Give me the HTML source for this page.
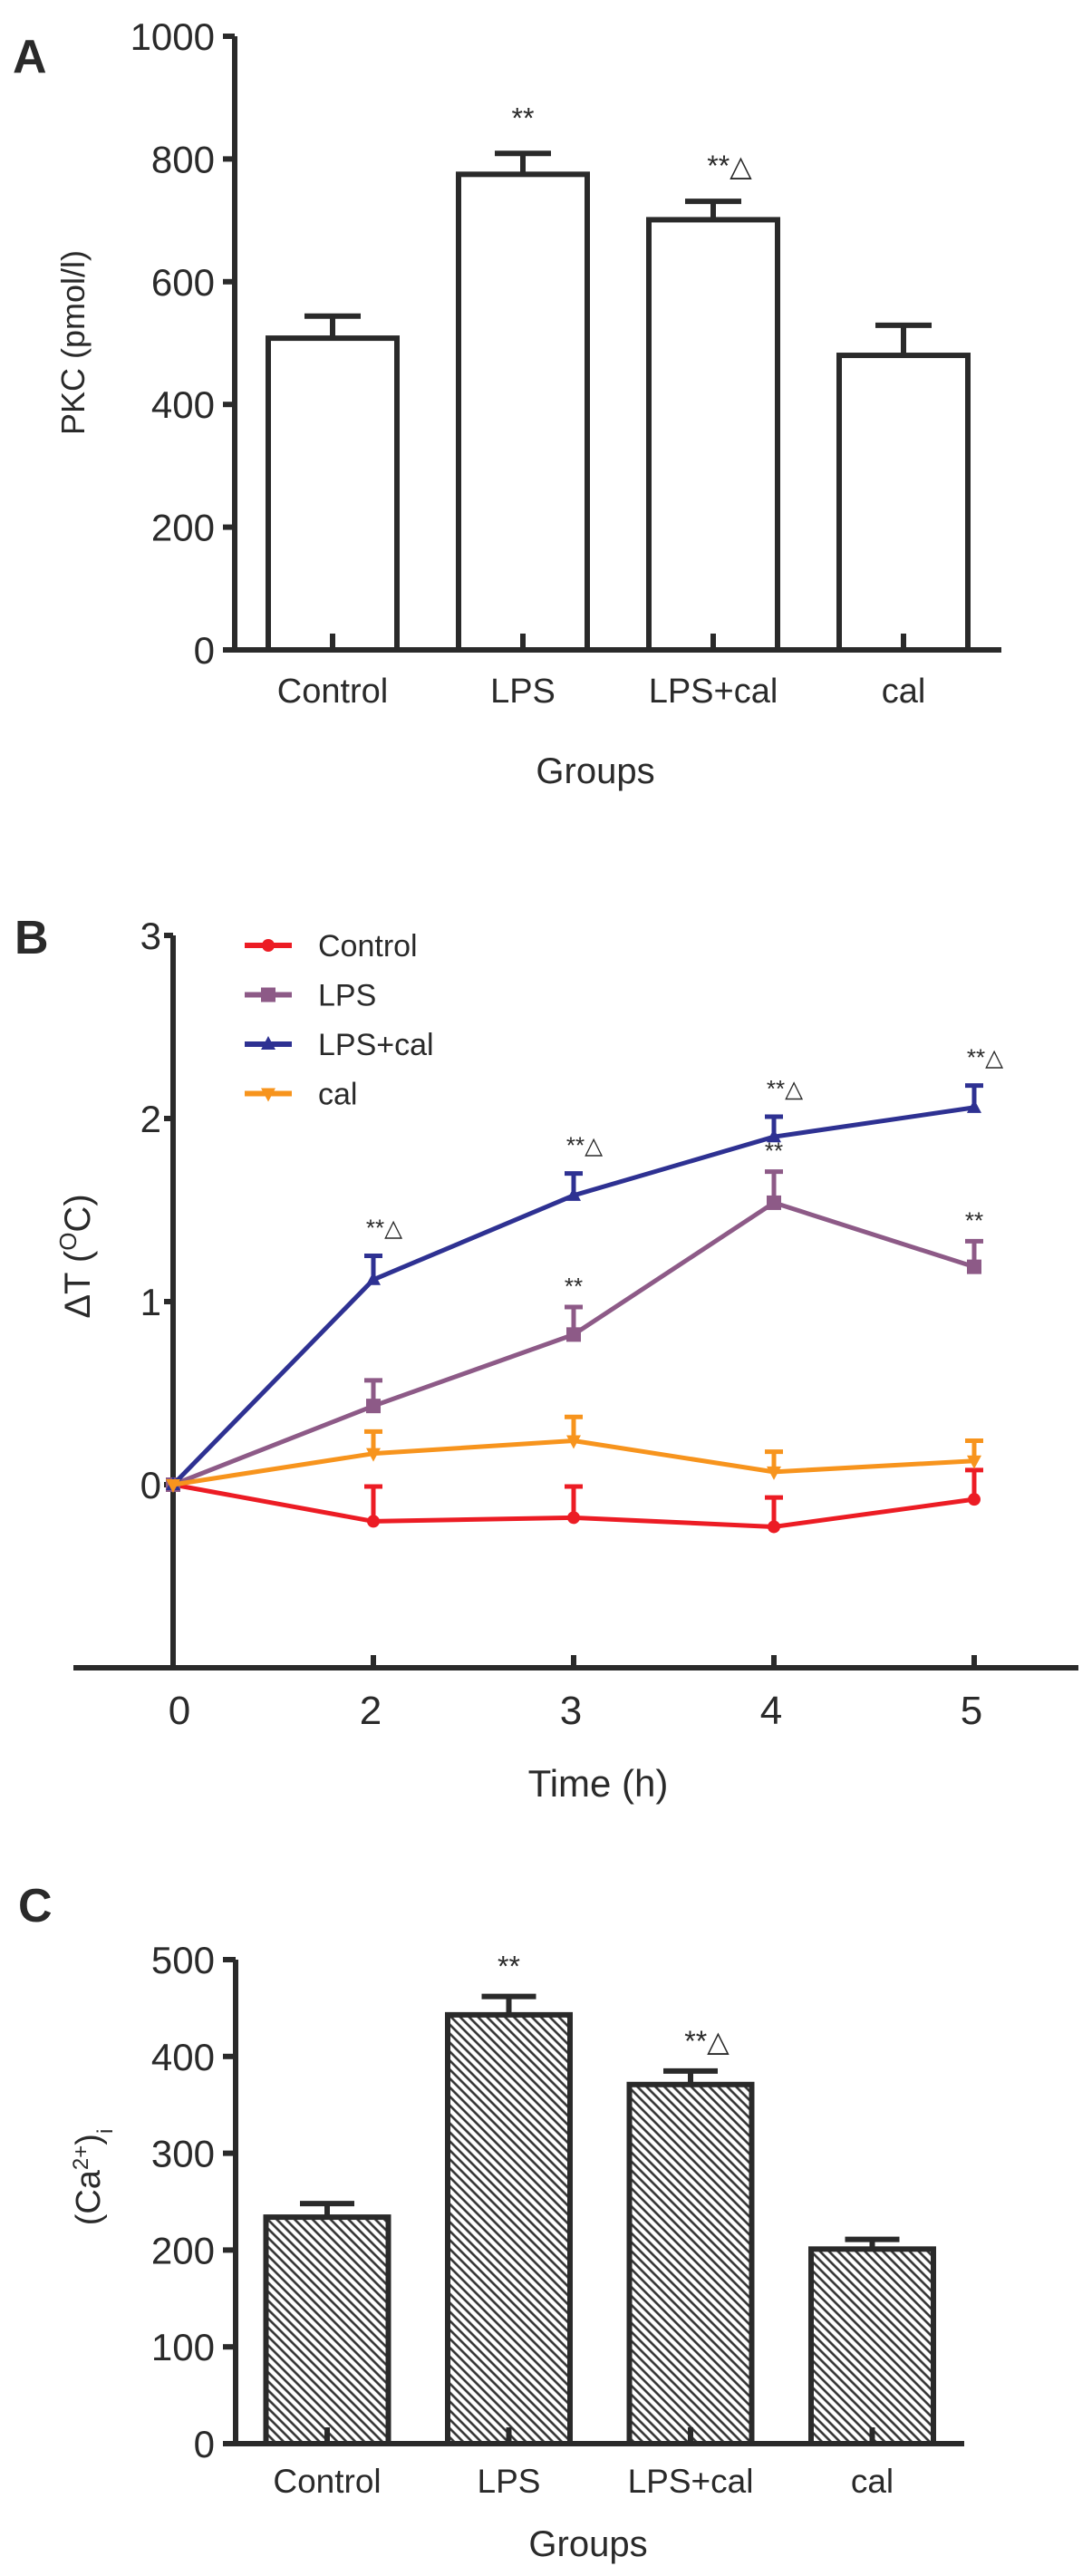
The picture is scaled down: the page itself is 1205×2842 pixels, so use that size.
<!DOCTYPE html>
<html><head><meta charset="utf-8"><style>
html,body{margin:0;padding:0;background:#fff}
svg{display:block}
text{font-family:"Liberation Sans",Arial,sans-serif;fill:#2a2a2a}
</style></head><body>
<svg id="fig" width="1205" height="2842" viewBox="0 0 1205 2842" xmlns="http://www.w3.org/2000/svg">
<defs>
<pattern id="hatch" patternUnits="userSpaceOnUse" width="7" height="7" patternTransform="rotate(45)">
<rect width="7" height="7" fill="#fff"/>
<line x1="0" y1="3.5" x2="7" y2="3.5" stroke="#333" stroke-width="2.6"/>
</pattern>
</defs>
<g id="pa"></g>
<g id="pb"></g>
<g id="pc"></g>
</svg>
<script>
// Panel A data
const aCategories = ["Control", "LPS", "LPS+cal", "cal"];
const aValues = [508, 775, 701, 480];
const aErrors = [36, 34, 30, 49];
const aMarks = ["", "**", "**△", ""];
const aTicks = [0, 200, 400, 600, 800, 1000];

// Panel B data
const bTimes = ["0", "2", "3", "4", "5"];
const bSeriesNames = ["Control", "LPS", "LPS+cal", "cal"];
const bControl = [0, -0.20, -0.18, -0.23, -0.08];
const bControlErr = [0, 0.19, 0.17, 0.16, 0.16];
const bLPS = [0, 0.43, 0.82, 1.54, 1.19];
const bLPSErr = [0, 0.14, 0.15, 0.17, 0.14];
const bLPScal = [0, 1.12, 1.58, 1.90, 2.06];
const bLPScalErr = [0, 0.13, 0.12, 0.11, 0.12];
const bCal = [0, 0.17, 0.24, 0.07, 0.13];
const bCalErr = [0, 0.12, 0.13, 0.11, 0.11];
const bLPSMarks = ["", "", "**", "**", "**"];
const bLPScalMarks = ["", "**△", "**△", "**△", "**△"];
const bTicks = [0, 1, 2, 3];

// Panel C data
const cCategories = ["Control", "LPS", "LPS+cal", "cal"];
const cValues = [234, 443, 371, 201];
const cErrors = [14, 19, 14, 10];
const cMarks = ["", "**", "**△", ""];
const cTicks = [0, 100, 200, 300, 400, 500];

const NS = "http://www.w3.org/2000/svg";
function mk(parent, tag, attrs, txt) {
  const e = document.createElementNS(NS, tag);
  for (const k in attrs) e.setAttribute(k, attrs[k]);
  if (txt !== undefined) e.textContent = txt;
  parent.appendChild(e);
  return e;
}
const INK = "#2a2a2a";

// ---------- Panel A ----------
(function(){
  const g = document.getElementById('pa');
  const y0 = 717, yTop = 40, vMax = 1000;
  const yA = v => y0 - (v / vMax) * (y0 - yTop);
  const xA = i => 367 + i * 210;
  const bw = 142;
  let t = mk(g, 'text', {x: 14, y: 80, 'font-size': 52, 'font-weight': 'bold', fill: '#111'}, 'A');
   
  aValues.forEach((v, i) => {
    const cx = xA(i);
    const r = mk(g, 'rect', {x: cx - bw/2, y: yA(v), width: bw, height: y0 - yA(v), fill: '#fff', stroke: INK, 'stroke-width': 6});
    
    
    const e = mk(g, 'path', {d: `M${cx} ${yA(v)} V${yA(v + aErrors[i])} M${cx-31} ${yA(v + aErrors[i])} H${cx+31} M${cx} ${y0} V${y0-18}`, stroke: INK, 'stroke-width': 6, fill: 'none'});
     
    const l = mk(g, 'text', {x: cx, y: 775, 'font-size': 38, 'text-anchor': 'middle'}, aCategories[i]);
     
    if (aMarks[i]) {
      const m = mk(g, 'text', {x: cx + (aMarks[i].length > 2 ? 18 : 0), y: yA(v + aErrors[i]) - 28, 'font-size': 32, 'text-anchor': 'middle'}, aMarks[i]);
       
    }
  });
  const ax = mk(g, 'path', {d: `M259 ${yTop} V${y0} M246 ${y0} H1105`, stroke: INK, 'stroke-width': 6, fill: 'none'});
   
  aTicks.forEach(v => {
    const tk = mk(g, 'path', {d: `M246 ${yA(v)} H259`, stroke: INK, 'stroke-width': 6});
     
    const tl = mk(g, 'text', {x: 237, y: yA(v) + 15, 'font-size': 42, 'text-anchor': 'end'}, v);
     
  });
  const yt = mk(g, 'text', {x: 0, y: 0, 'font-size': 36, 'text-anchor': 'middle', transform: 'translate(93,378) rotate(-90)'}, 'PKC (pmol/l)');
   
  const xt = mk(g, 'text', {x: 657, y: 864, 'font-size': 40, 'text-anchor': 'middle'}, 'Groups');
   
})();

// ---------- Panel B ----------
(function(){
  const g = document.getElementById('pb');
  const yZero = 1638, unit = 202;
  const yB = v => yZero - v * unit;
  const xB = i => 191 + i * 221;
  const yBottom = yB(-1);
  let t = mk(g, 'text', {x: 16, y: 1052, 'font-size': 52, 'font-weight': 'bold', fill: '#111'}, 'B');
   
  const ax = mk(g, 'path', {d: `M191 ${yB(3)} V${yBottom} M81 ${yBottom} H1190`, stroke: INK, 'stroke-width': 6, fill: 'none'});
   
  bTicks.forEach(v => {
    const tk = mk(g, 'path', {d: `M181 ${yB(v)} H191`, stroke: INK, 'stroke-width': 6});
     
    const tl = mk(g, 'text', {x: 178, y: yB(v) + 15, 'font-size': 42, 'text-anchor': 'end'}, v);
     
  });
  bTimes.forEach((lab, i) => {
    if (i > 0) {
      const tk = mk(g, 'path', {d: `M${xB(i)} ${yBottom} V${yBottom-14}`, stroke: INK, 'stroke-width': 6});
       
    }
    const tl = mk(g, 'text', {x: xB(i) + (i === 0 ? 7 : -3), y: 1902, 'font-size': 44, 'text-anchor': 'middle'}, lab);
     
  });
  const yt = mk(g, 'text', {x: 0, y: 0, 'font-size': 40, 'text-anchor': 'middle', transform: 'translate(99,1386) rotate(-90)'});
   
  yt.innerHTML = 'ΔT (<tspan baseline-shift="super" font-size="26">O</tspan>C)';
  const xt = mk(g, 'text', {x: 660, y: 1982, 'font-size': 42, 'text-anchor': 'middle'}, 'Time (h)');
   

  const series = [
    {vals: bControl, err: bControlErr, color: '#ec1c24', marker: 'circle'},
    {vals: bLPS, err: bLPSErr, color: '#8d5a87', marker: 'square'},
    {vals: bLPScal, err: bLPScalErr, color: '#2e3192', marker: 'tri'},
    {vals: bCal, err: bCalErr, color: '#f7941d', marker: 'tridown'}
  ];
  function marker(parent, type, x, y, c) {
    let m;
    if (type === 'circle') m = mk(parent, 'circle', {cx: x, cy: y, r: 7, fill: c});
    else if (type === 'square') m = mk(parent, 'rect', {x: x-8, y: y-8, width: 16, height: 16, fill: c});
    else if (type === 'tri') m = mk(parent, 'path', {d: `M${x} ${y-9} L${x+8} ${y+6} L${x-8} ${y+6}Z`, fill: c});
    else m = mk(parent, 'path', {d: `M${x} ${y+9} L${x+8} ${y-6} L${x-8} ${y-6}Z`, fill: c});
     
  }
  series.forEach((s, si) => {
    const sg = mk(g, 'g', {});
    
    
    const d = s.vals.map((v, i) => (i ? 'L' : 'M') + xB(i) + ' ' + yB(v)).join(' ');
    const ln = mk(sg, 'path', {d: d, stroke: s.color, 'stroke-width': 5, fill: 'none', 'stroke-linejoin': 'round'});
     
    s.vals.forEach((v, i) => {
      if (s.err[i] > 0) {
        const top = yB(v + s.err[i]);
        const e = mk(sg, 'path', {d: `M${xB(i)} ${yB(v)} V${top} M${xB(i)-10} ${top} H${xB(i)+10}`, stroke: s.color, 'stroke-width': 5, fill: 'none'});
         
      }
      marker(sg, s.marker, xB(i), yB(v), s.color);
    });
    const ly = 1043 + si * 54.5;
    const lg = mk(g, 'g', {});
     
    mk(lg, 'path', {d: `M270 ${ly} H322`, stroke: s.color, 'stroke-width': 6});
    marker(lg, s.marker, 296, ly, s.color);
    mk(lg, 'text', {x: 351, y: ly + 12, 'font-size': 34}, bSeriesNames[si]);
  });
  bLPScal.forEach((v, i) => {
    if (!bLPScalMarks[i]) return;
    const m = mk(g, 'text', {x: xB(i) + 12, y: yB(v + bLPScalErr[i]) - 22, 'font-size': 26, 'text-anchor': 'middle'}, bLPScalMarks[i]);
     
  });
  bLPS.forEach((v, i) => {
    if (!bLPSMarks[i]) return;
    const m = mk(g, 'text', {x: xB(i), y: yB(v + bLPSErr[i]) - 14, 'font-size': 26, 'text-anchor': 'middle'}, bLPSMarks[i]);
     
  });
})();

// ---------- Panel C ----------
(function(){
  const g = document.getElementById('pc');
  const y0 = 2696, yTop = 2162, vMax = 500;
  const yC = v => y0 - (v / vMax) * (y0 - yTop);
  const xC = i => 361 + i * 200.5;
  const bw = 135;
  let t = mk(g, 'text', {x: 20, y: 2120, 'font-size': 52, 'font-weight': 'bold', fill: '#111'}, 'C');
   
  cValues.forEach((v, i) => {
    const cx = xC(i);
    const r = mk(g, 'rect', {x: cx - bw/2, y: yC(v), width: bw, height: y0 - yC(v), fill: 'url(#hatch)', stroke: INK, 'stroke-width': 6});
    
    
    const e = mk(g, 'path', {d: `M${cx} ${yC(v)} V${yC(v + cErrors[i])} M${cx-30} ${yC(v + cErrors[i])} H${cx+30} M${cx} ${y0} V${y0-18}`, stroke: INK, 'stroke-width': 6, fill: 'none'});
     
    const l = mk(g, 'text', {x: cx, y: 2750, 'font-size': 37, 'text-anchor': 'middle'}, cCategories[i]);
     
    if (cMarks[i]) {
      const m = mk(g, 'text', {x: cx + (cMarks[i].length > 2 ? 18 : 0), y: yC(v + cErrors[i]) - 22, 'font-size': 32, 'text-anchor': 'middle'}, cMarks[i]);
       
    }
  });
  const ax = mk(g, 'path', {d: `M260 ${yTop} V${y0} M246 ${y0} H1064`, stroke: INK, 'stroke-width': 6, fill: 'none'});
   
  cTicks.forEach(v => {
    const tk = mk(g, 'path', {d: `M246 ${yC(v)} H260`, stroke: INK, 'stroke-width': 6});
     
    const tl = mk(g, 'text', {x: 237, y: yC(v) + 15, 'font-size': 42, 'text-anchor': 'end'}, v);
     
  });
  const yt = mk(g, 'text', {x: 0, y: 0, 'font-size': 38, 'text-anchor': 'middle', transform: 'translate(110,2402) rotate(-90)'});
   
  yt.innerHTML = '(Ca<tspan baseline-shift="super" font-size="24">2+</tspan>)<tspan baseline-shift="sub" font-size="24">i</tspan>';
  const xt = mk(g, 'text', {x: 649, y: 2820, 'font-size': 40, 'text-anchor': 'middle'}, 'Groups');
   
})();
</script>
</body></html>
